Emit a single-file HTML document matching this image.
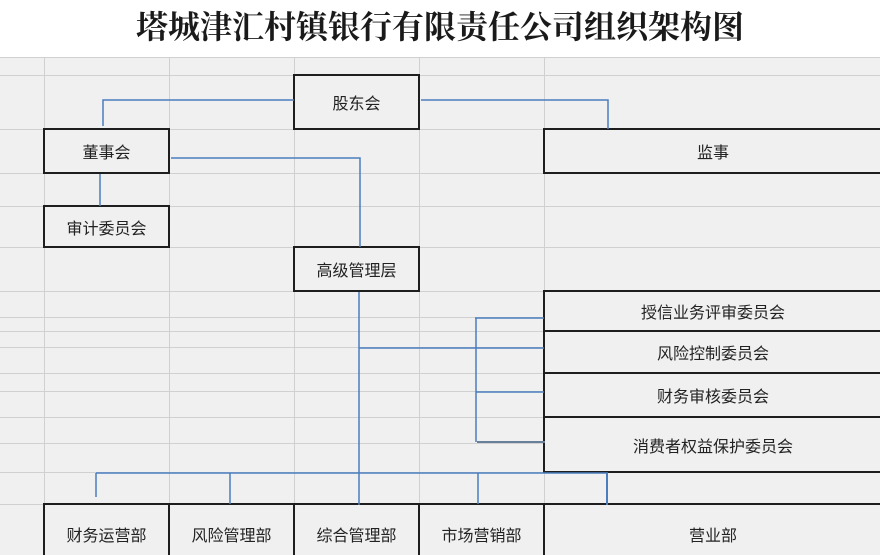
<!DOCTYPE html>
<html><head><meta charset="utf-8"><style>
html,body{margin:0;width:880px;height:555px;overflow:hidden;background:#fff;font-family:"Liberation Sans","Noto Sans CJK SC",sans-serif;}
.t{position:absolute;left:0;top:0;width:880px;height:57px;text-align:center;font:bold 32px/54px "Liberation Serif","Noto Serif CJK SC",serif;color:#1a1a1a;}
.g{position:absolute;left:0;top:57px;width:880px;height:498px;background:#f0f0f0;}
.b{position:absolute;box-sizing:border-box;border:2px solid #1e1e1e;background:#f0f0f0;display:flex;align-items:center;justify-content:center;font-size:16px;color:#222;}
.bt{border-bottom:none;height:52px;padding-top:8px;}
</style></head><body>
<div class="t">塔城津汇村镇银行有限责任公司组织架构图</div>
<div class="g"></div>
<svg width="880" height="555" style="position:absolute;left:0;top:0">
<g stroke="#d0d0d0" stroke-width="1">
<line x1="0" y1="57.5" x2="880" y2="57.5"/><line x1="0" y1="75.5" x2="880" y2="75.5"/><line x1="0" y1="129.5" x2="880" y2="129.5"/><line x1="0" y1="173.5" x2="880" y2="173.5"/><line x1="0" y1="206.5" x2="880" y2="206.5"/><line x1="0" y1="247.5" x2="880" y2="247.5"/><line x1="0" y1="291.5" x2="880" y2="291.5"/><line x1="0" y1="317.5" x2="880" y2="317.5"/><line x1="0" y1="331.5" x2="880" y2="331.5"/><line x1="0" y1="347.5" x2="880" y2="347.5"/><line x1="0" y1="373.5" x2="880" y2="373.5"/><line x1="0" y1="391.5" x2="880" y2="391.5"/><line x1="0" y1="417.5" x2="880" y2="417.5"/><line x1="0" y1="443.5" x2="880" y2="443.5"/><line x1="0" y1="472.5" x2="880" y2="472.5"/><line x1="0" y1="504.5" x2="880" y2="504.5"/>
<line x1="44.5" y1="57" x2="44.5" y2="555"/><line x1="169.5" y1="57" x2="169.5" y2="555"/><line x1="294.5" y1="57" x2="294.5" y2="555"/><line x1="419.5" y1="57" x2="419.5" y2="555"/><line x1="544.5" y1="57" x2="544.5" y2="555"/>
</g>
</svg>
<div class="b" style="left:293px;top:74px;width:127px;height:56px">股东会</div>
<div class="b" style="left:43px;top:128px;width:127px;height:46px">董事会</div>
<div class="b" style="left:543px;top:128px;width:340px;height:46px">监事</div>
<div class="b" style="left:43px;top:205px;width:127px;height:43px">审计委员会</div>
<div class="b" style="left:293px;top:246px;width:127px;height:46px">高级管理层</div>
<div class="b" style="left:543px;top:290px;width:340px;height:42px">授信业务评审委员会</div>
<div class="b" style="left:543px;top:330px;width:340px;height:44px">风险控制委员会</div>
<div class="b" style="left:543px;top:372px;width:340px;height:46px">财务审核委员会</div>
<div class="b" style="left:543px;top:416px;width:340px;height:57px">消费者权益保护委员会</div>
<div class="b bt" style="left:43px;top:503px;width:127px">财务运营部</div>
<div class="b bt" style="left:168px;top:503px;width:127px">风险管理部</div>
<div class="b bt" style="left:293px;top:503px;width:127px">综合管理部</div>
<div class="b bt" style="left:418px;top:503px;width:127px">市场营销部</div>
<div class="b bt" style="left:543px;top:503px;width:340px">营业部</div>
<svg width="880" height="555" style="position:absolute;left:0;top:0">
<g stroke="#4a7ebf" stroke-width="1.5" fill="none">
<polyline points="103,126 103,100 294,100"/>
<polyline points="421,100 608,100 608,129"/>
<polyline points="171,158 360,158 360,247"/>
<line x1="100" y1="174" x2="100" y2="206"/>
<line x1="359" y1="292" x2="359" y2="505"/>
<line x1="359" y1="348" x2="544" y2="348"/>
<line x1="476" y1="318" x2="476" y2="442"/>
<line x1="475" y1="318" x2="544" y2="318"/>
<line x1="476" y1="392" x2="544" y2="392"/>
<line x1="96" y1="473" x2="608" y2="473"/>
<line x1="96" y1="473" x2="96" y2="497"/>
<line x1="230" y1="473" x2="230" y2="504"/>
<line x1="478" y1="473" x2="478" y2="504"/>
<line x1="607" y1="473" x2="607" y2="505" stroke-width="2"/>
</g>
<line x1="477" y1="442" x2="545" y2="442" stroke="#6a7f9a" stroke-width="2"/>
</svg>
</body></html>
